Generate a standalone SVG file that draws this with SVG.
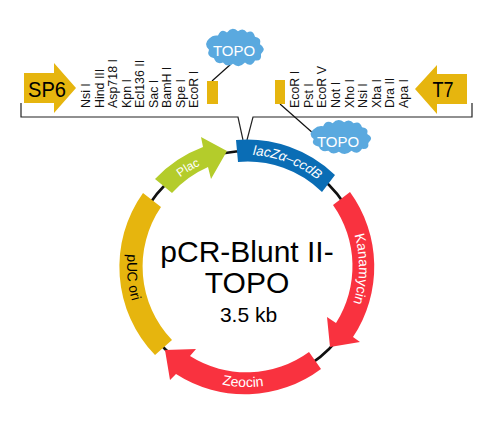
<svg xmlns="http://www.w3.org/2000/svg" width="500" height="421" viewBox="0 0 500 421">
<style>
text{font-family:"Liberation Sans",Arial,sans-serif}
.site{font-size:12.4px;fill:#111}
.ln{fill:none;stroke:#222;stroke-width:1.2}
.lead{fill:none;stroke:#111;stroke-width:1.2}
.yel{fill:#E6B50E}
.red{fill:#F9323F}
.cloud{fill:#5AA9DF}
.big{font-size:22px;fill:#000}
.lab{text-anchor:middle;font-size:13.5px}
.title{text-anchor:middle;fill:#000}
</style>
<defs>
<path id="cloudShape" d="M-26,-8Q-22,-12 -17,-11Q-14,-18 -8,-14Q-3,-20 3,-15Q8,-19 12,-14Q18,-17 20,-10Q27,-9 25,-3Q32,1 26,6Q27,13 20,12Q16,19 10,14Q4,20 -2,15Q-8,19 -12,14Q-19,16 -21,10Q-29,8 -26,2Q-32,-3 -26,-8Z"/>
<path id="pLac" d="M149.3,212.2A112,112 0 0 1 245.6,155"/>
<path id="pLacZ" d="M227.6,156.7A112,112 0 0 1 335.3,198"/>
<path id="pKan" d="M344,211A112,112 0 0 1 342,326.4"/>
<path id="pZeo" d="M183.4,368.8A120,120 0 0 0 303.3,373"/>
<path id="pUC" d="M138.2,216.3A120,120 0 0 0 149.2,336.5"/>
</defs>
<g id="connectors">
<circle cx="247" cy="267" r="116" fill="none" stroke="#111" stroke-width="2.6"/>
<path class="ln" d="M21,103V117H238L243,140"/>
<path class="ln" d="M247,140L253,117H472V103"/>
<path class="lead" d="M212,81L231,64"/>
<path class="lead" d="M280,104L314,134"/>
</g>
<g id="sp6">
<path class="yel" d="M24,73H54V63L76,88L54,113V103H24Z"/>
<text class="big" x="28" y="96.500" textLength="38" lengthAdjust="spacingAndGlyphs">SP6</text>
</g>
<g id="t7">
<path class="yel" d="M467,74H437V65L415,89L437,114V104H467Z"/>
<text class="big" x="432.500" y="97" textLength="21" lengthAdjust="spacingAndGlyphs">T7</text>
</g>
<g id="sites-left" class="site">
<text transform="translate(90,108) rotate(-90)">Nsi I</text>
<text transform="translate(104,108) rotate(-90)">Hind III</text>
<text transform="translate(117,108) rotate(-90)">Asp718 I</text>
<text transform="translate(131,108) rotate(-90)">Kpn I</text>
<text transform="translate(144,108) rotate(-90)">Ecl136 II</text>
<text transform="translate(158,108) rotate(-90)">Sac I</text>
<text transform="translate(171,108) rotate(-90)">BamH I</text>
<text transform="translate(185,108) rotate(-90)">Spe I</text>
<text transform="translate(198,108) rotate(-90)">EcoR I</text>
</g>
<g id="sites-right" class="site">
<text transform="translate(299,108) rotate(-90)">EcoR I</text>
<text transform="translate(313,108) rotate(-90)">Pst I</text>
<text transform="translate(326,108) rotate(-90)">EcoR V</text>
<text transform="translate(340,108) rotate(-90)">Not I</text>
<text transform="translate(354,108) rotate(-90)">Xho I</text>
<text transform="translate(367,108) rotate(-90)">Nsi I</text>
<text transform="translate(381,108) rotate(-90)">Xba I</text>
<text transform="translate(394,108) rotate(-90)">Dra II</text>
<text transform="translate(408,108) rotate(-90)">Apa I</text>
</g>
<g id="topo-left-site"><rect class="yel" x="207" y="81" width="11" height="23"/></g>
<g id="topo-right-site"><rect class="yel" x="275" y="80" width="10" height="24"/></g>
<g id="topo-cloud-left">
<use href="#cloudShape" class="cloud" transform="translate(235,47.500) scale(1,1.08)"/>
<text x="234" y="56" font-size="15" fill="#fff" text-anchor="middle">TOPO</text>
</g>
<g id="topo-cloud-right">
<use href="#cloudShape" class="cloud" transform="translate(341,137) scale(1.05,.98)"/>
<text x="338" y="147" font-size="15" fill="#fff" text-anchor="middle">TOPO</text>
</g>
<g id="plac">
<path d="M155,179A127,127 0 0 1 203,147L201,137L227,151L211,179L208,167A106,106 0 0 0 172,193Z" fill="#B4CC2B"/>
<text class="lab" font-size="12" style="font-size:12px" fill="#fff"><textPath href="#pLac" startOffset="50%">Plac</textPath></text>
</g>
<g id="lacz">
<path d="M236,140A127,127 0 0 1 335,175L322,192A106,106 0 0 0 238,162Z" fill="#0A6DB5"/>
<text text-anchor="middle" font-size="13.500" font-style="italic" fill="#fff"><textPath href="#pLacZ" startOffset="50%">lacZα–ccdB</textPath></text>
</g>
<g id="kanamycin">
<path class="red" d="M350,192A127,127 0 0 1 353,337L360,342L330,347L327,317L336,323A106,106 0 0 0 333,205Z"/>
<text class="lab" fill="#fff" style="font-size:14px"><textPath href="#pKan" startOffset="50%">Kanamycin</textPath></text>
</g>
<g id="zeocin">
<path class="red" d="M321,369A127,127 0 0 1 176,374L170,380L165,350L196,349L190,356A106,106 0 0 0 309,352Z"/>
<text class="lab" fill="#fff" style="font-size:14px"><textPath href="#pZeo" startOffset="50%">Zeocin</textPath></text>
</g>
<g id="puc-ori">
<path class="yel" d="M143,193A127,127 0 0 0 155,355L172,340A106,106 0 0 1 161,207Z"/>
<text class="lab" fill="#000" style="font-size:14px"><textPath href="#pUC" startOffset="50%">pUC ori</textPath></text>
</g>
<g id="title">
<text class="title" x="247" y="262" font-size="30">pCR-Blunt II-</text>
<text class="title" x="247" y="293" font-size="30">TOPO</text>
<text class="title" x="248.500" y="322" font-size="21">3.5 kb</text>
</g>
</svg>
